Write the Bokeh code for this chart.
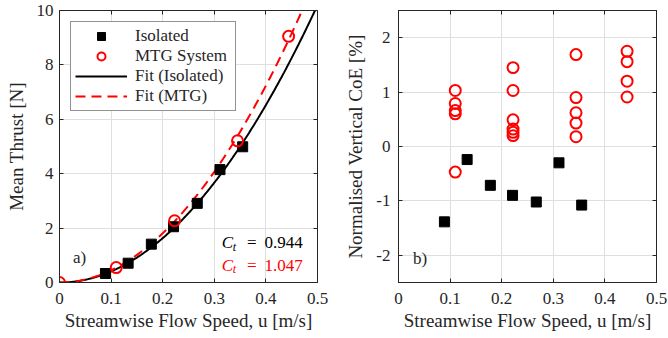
import numpy as np
from bokeh.plotting import figure
from bokeh.layouts import row
from bokeh.models import (Range1d, LinearAxis, Legend, LegendItem, Label,
                          FixedTicker, CustomJSTickFormatter)
from bokeh.embed import file_html
from bokeh.resources import INLINE

# ---------------- data ----------------
u_iso = [0.089, 0.133, 0.178, 0.221, 0.267, 0.311, 0.355]
thrust_iso = [0.33, 0.71, 1.41, 2.05, 2.91, 4.15, 4.99]
u_mtg = [0.0, 0.110, 0.223, 0.345, 0.444]
thrust_mtg = [0.0, 0.55, 2.27, 5.21, 9.05]

ct_iso = 0.944
ct_mtg = 1.047
rho = 1000.0
area = 0.0864  # swept area used by the thrust fit

coe_iso = [-1.385, -0.24, -0.714, -0.898, -1.02, -0.30, -1.077]
u_coe_mtg = [0.110, 0.110, 0.110, 0.110, 0.110,
             0.222, 0.222, 0.222, 0.222, 0.222, 0.222,
             0.344, 0.344, 0.344, 0.344, 0.344,
             0.443, 0.443, 0.443, 0.443]
coe_mtg = [1.03, 0.79, 0.66, 0.60, -0.47,
           1.45, 1.03, 0.49, 0.32, 0.26, 0.20,
           1.69, 0.90, 0.62, 0.43, 0.18,
           1.75, 1.56, 1.20, 0.91]

x_ticks = [0, 0.1, 0.2, 0.3, 0.4, 0.5]
thrust_ticks = [0, 2, 4, 6, 8, 10]
coe_ticks = [-2, -1, 0, 1, 2]

x_label = "Streamwise Flow Speed, u [m/s]"

FONT = "Liberation Serif"
AX = "#262626"
RED = "#ff0000"


def style(p, xt, yt, y_standoff):
    p.xaxis.ticker = FixedTicker(ticks=xt)
    p.yaxis.ticker = FixedTicker(ticks=yt)
    plain = CustomJSTickFormatter(code="return String(tick)")
    p.xaxis.formatter = plain
    p.yaxis.formatter = plain
    for ax in p.axis:
        ax.axis_line_color = AX
        ax.major_tick_line_color = AX
        ax.major_tick_in = 4
        ax.major_tick_out = 0
        ax.minor_tick_line_color = None
        ax.major_label_text_font = FONT
        ax.major_label_text_font_size = "17px"
        ax.major_label_text_color = AX
        ax.axis_label_text_font = FONT
        ax.axis_label_text_font_style = "normal"
        ax.axis_label_text_font_size = "19px"
        ax.axis_label_text_color = AX
    p.xaxis.major_label_standoff = 10
    p.yaxis.major_label_standoff = y_standoff
    p.xaxis.axis_label_standoff = 3
    p.yaxis.axis_label_standoff = 7
    p.grid.grid_line_color = "#dfdfdf"
    p.grid.grid_line_width = 1
    p.outline_line_color = AX
    p.background_fill_color = "white"
    blank = CustomJSTickFormatter(code="return ''")
    top = LinearAxis(ticker=FixedTicker(ticks=xt), formatter=blank,
                     major_tick_in=4, major_tick_out=0, major_label_standoff=0,
                     minor_tick_line_color=None, axis_line_color=AX,
                     major_tick_line_color=AX)
    right = LinearAxis(ticker=FixedTicker(ticks=yt), formatter=blank,
                       major_tick_in=4, major_tick_out=0, major_label_standoff=0,
                       minor_tick_line_color=None, axis_line_color=AX,
                       major_tick_line_color=AX)
    p.add_layout(top, "above")
    p.add_layout(right, "right")


# ---------------- panel a ----------------
p1 = figure(frame_width=258, frame_height=272, output_backend="svg",
            toolbar_location=None, x_range=Range1d(0, 0.5), y_range=Range1d(0, 10),
            min_border_left=59, min_border_right=17, min_border_top=10,
            min_border_bottom=56, x_axis_label=x_label, y_axis_label="Mean Thrust [N]")
style(p1, x_ticks, thrust_ticks, 6)

u_fit = np.linspace(0, 0.5, 201)
t_fit_iso = 0.5 * rho * area * ct_iso * u_fit ** 2
t_fit_mtg = 0.5 * rho * area * ct_mtg * u_fit ** 2

r_fit_iso = p1.line(u_fit, t_fit_iso, line_color="black", line_width=2)
r_fit_mtg = p1.line(u_fit, t_fit_mtg, line_color=RED, line_width=2, line_dash="10 6")
r_iso = p1.scatter(u_iso, thrust_iso, marker="square", size=10,
                   fill_color="black", line_color="black")
r_mtg = p1.scatter(u_mtg, thrust_mtg, marker="circle", size=11,
                   fill_color=None, line_color=RED, line_width=2)

legend = Legend(items=[LegendItem(label="Isolated", renderers=[r_iso]),
                       LegendItem(label="MTG System", renderers=[r_mtg]),
                       LegendItem(label="Fit (Isolated)", renderers=[r_fit_iso]),
                       LegendItem(label="Fit (MTG)", renderers=[r_fit_mtg])],
                location="top_left", margin=11, padding=4, spacing=0,
                label_height=20, glyph_height=20, glyph_width=52,
                label_standoff=8, label_width=96,
                label_text_font=FONT, label_text_font_size="17px",
                label_text_color=AX, border_line_color=AX, border_line_width=1,
                background_fill_color="white", background_fill_alpha=1)
p1.add_layout(legend)

lab_kw = dict(text_font=FONT, text_font_size="17px", text_baseline="middle")
p1.add_layout(Label(x=0.026, y=0.92, text="a)", text_color=AX, text_align="left", **lab_kw))
ct_x = 0.4715
for yv, ctv, col in [(1.47, ct_iso, "black"), (0.64, ct_mtg, RED)]:
    p1.add_layout(Label(x=ct_x, y=yv, text=f"{ctv:.3f}", text_color=col,
                        text_align="right", **lab_kw))
    p1.add_layout(Label(x=ct_x, y=yv, x_offset=-51, text="=", text_color=col,
                        text_align="center", **lab_kw))
    p1.add_layout(Label(x=ct_x, y=yv, x_offset=-81, text="C", text_color=col,
                        text_align="left", text_font_style="italic", **lab_kw))
    p1.add_layout(Label(x=ct_x, y=yv, x_offset=-70, y_offset=-4, text="t",
                        text_color=col, text_align="left", text_font_style="italic",
                        text_font=FONT, text_font_size="12px", text_baseline="middle"))

# ---------------- panel b ----------------
p2 = figure(frame_width=258, frame_height=272, output_backend="svg",
            toolbar_location=None, x_range=Range1d(0, 0.5), y_range=Range1d(-2.5, 2.5),
            min_border_left=64, min_border_right=11, min_border_top=10,
            min_border_bottom=56, x_axis_label=x_label,
            y_axis_label="Normalised Vertical CoE [%]")
style(p2, x_ticks, coe_ticks, 8)
p2.scatter(u_iso, coe_iso, marker="square", size=10, fill_color="black", line_color="black")
p2.scatter(u_coe_mtg, coe_mtg, marker="circle", size=11, fill_color=None,
           line_color=RED, line_width=2)
p2.add_layout(Label(x=0.028, y=-2.05, text="b)", text_color=AX, text_align="left", **lab_kw))

layout = row(p1, p2)
open("out.html", "w").write(file_html(layout, INLINE))
